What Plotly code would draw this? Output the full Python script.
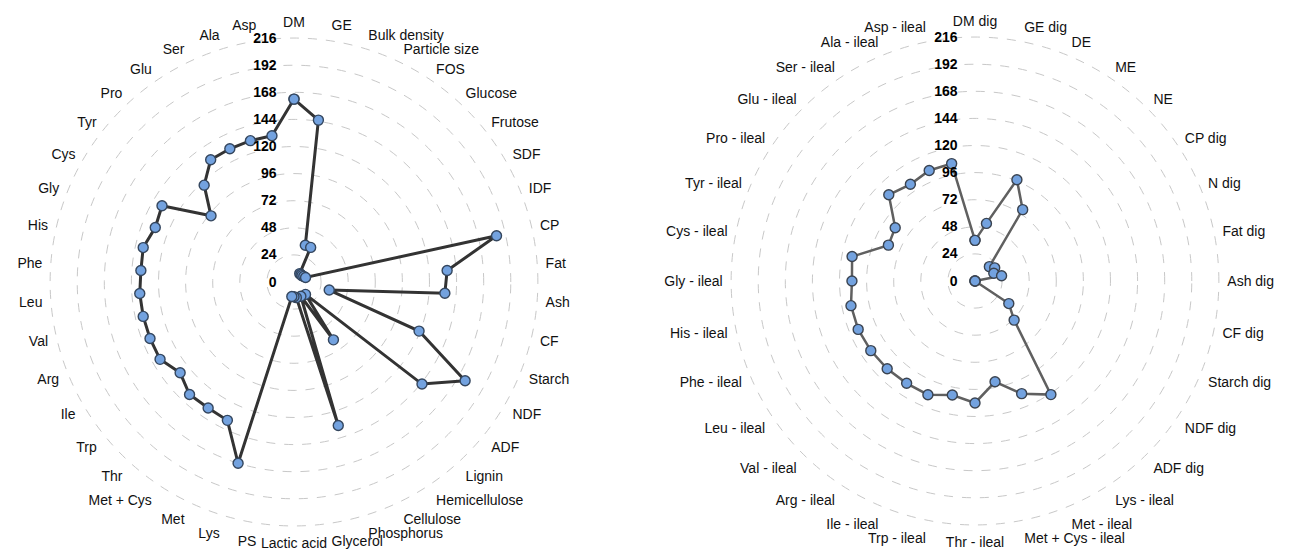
import plotly.graph_objects as go

left_categories = ["DM", "GE", "Bulk density", "Particle size", "FOS", "Glucose", "Frutose",
                   "SDF", "IDF", "CP", "Fat", "Ash", "CF", "Starch", "NDF", "ADF", "Lignin",
                   "Hemicellulose", "Cellulose", "Phosphorus", "Glycerol", "Lactic acid", "PS",
                   "Lys", "Met", "Met + Cys", "Thr", "Trp", "Ile", "Arg", "Val", "Leu", "Phe",
                   "His", "Gly", "Cys", "Tyr", "Pro", "Glu", "Ser", "Ala", "Asp"]
left_values = [162, 145, 34, 34, 9, 9, 9, 10, 11, 184, 136, 134, 32, 119, 175, 145, 15,
               62, 14, 133, 14, 13, 13, 168, 136, 135, 136, 129, 137, 137, 137, 137, 136,
               137, 132, 135, 94, 117, 131, 131, 131, 131]

right_categories = ["DM dig", "GE dig", "DE", "ME", "NE", "CP dig", "N dig", "Fat dig", "Ash dig",
                    "CF dig", "Starch dig", "NDF dig", "ADF dig", "Lys - ileal", "Met - ileal",
                    "Met + Cys - ileal", "Thr - ileal", "Trp - ileal", "Ile - ileal", "Arg - ileal",
                    "Val - ileal", "Leu - ileal", "Phe - ileal", "His - ileal", "Gly - ileal",
                    "Cys - ileal", "Tyr - ileal", "Pro - ileal", "Glu - ileal", "Ser - ileal",
                    "Ala - ileal", "Asp - ileal"]
right_values = [36, 52, 97, 76, 18, 21, 18, 24, 0, 0, 0, 36, 49, 121, 108, 91, 108, 103,
                109, 109, 110, 111, 112, 112, 109, 111, 83, 85, 108, 103, 106, 106]

radial_ticks = [0, 24, 48, 72, 96, 120, 144, 168, 192, 216]

fig = go.Figure()
fig.add_trace(go.Scatterpolar(
    r=left_values + left_values[:1], theta=left_categories + left_categories[:1],
    mode="lines+markers", subplot="polar",
    line=dict(color="#333333", width=3),
    marker=dict(size=10, color="#73a2df", line=dict(color="#34465e", width=1.4)),
    showlegend=False))
fig.add_trace(go.Scatterpolar(
    r=right_values + right_values[:1], theta=right_categories + right_categories[:1],
    mode="lines+markers", subplot="polar2",
    line=dict(color="#606060", width=2.5),
    marker=dict(size=10, color="#73a2df", line=dict(color="#3a4350", width=1.4)),
    showlegend=False))

def polar_cfg(xd, yd, cats):
    return dict(
        domain=dict(x=xd, y=yd),
        bgcolor="white",
        radialaxis=dict(range=[0, 217], tickvals=radial_ticks, ticktext=[str(v) for v in radial_ticks],
                        showline=False, ticks="outside", ticklen=12, tickcolor="rgba(0,0,0,0)",
                        angle=90, side="counterclockwise", tickangle=90,
                        gridcolor="#c8c8c8", griddash="dash", gridwidth=1,
                        tickfont=dict(family="Liberation Sans, Arial", size=14, color="black", weight="bold")),
        angularaxis=dict(type="category", categoryarray=cats, direction="clockwise", rotation=90,
                         showgrid=False, showline=False, ticks="outside", ticklen=4,
                         tickcolor="rgba(0,0,0,0)",
                         tickfont=dict(family="Liberation Sans, Arial", size=14, color="#111111")),
    )

W, H = 1289, 553
dy = 8
dx = 7
fig.update_layout(
    width=W, height=H,
    margin=dict(l=0, r=0, t=0, b=0),
    paper_bgcolor="white",
    polar=polar_cfg([(48 - dx) / W, (538 - dx) / W], [(H - 527 + dy) / H, (H - 37 + dy) / H], left_categories),
    polar2=polar_cfg([(728 - dx + 1) / W, (1218 - dx + 1) / W], [(H - 526 + dy) / H, (H - 36 + dy) / H], right_categories),
)
fig.write_html("out.html")
